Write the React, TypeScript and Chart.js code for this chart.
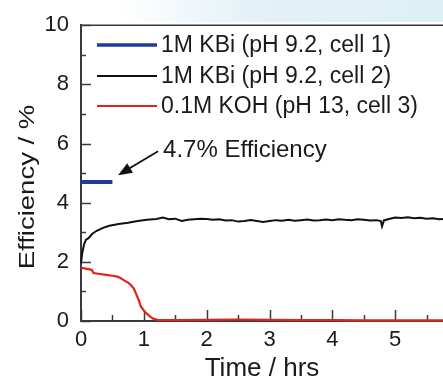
import { useEffect, useRef } from 'react';
import { Chart, registerables } from 'chart.js';

Chart.register(...registerables);

const FONT = '"Liberation Sans", Arial, Helvetica, sans-serif';

// ---- data (hours, efficiency %) ----
const cell1Time = [0, 0.5];
const cell1Eff = [4.7, 4.7];

const cell2Time = [0, 0.02, 0.05, 0.08, 0.12, 0.18, 0.25, 0.35, 0.45, 0.6, 0.75, 0.9, 1.05, 1.2, 1.3, 1.4, 1.5, 1.6, 1.7, 1.8, 1.9, 2.0, 2.1, 2.2, 2.3, 2.4, 2.5, 2.6, 2.7, 2.8, 2.9, 3.0, 3.1, 3.2, 3.3, 3.4, 3.5, 3.6, 3.7, 3.8, 3.9, 4.0, 4.1, 4.2, 4.3, 4.4, 4.5, 4.6, 4.7, 4.77, 4.79, 4.82, 4.9, 5.0, 5.1, 5.2, 5.3, 5.4, 5.5, 5.6, 5.7, 5.76];
const cell2Eff = [1.95, 2.3, 2.6, 2.75, 2.8, 2.95, 3.05, 3.15, 3.22, 3.28, 3.32, 3.38, 3.42, 3.45, 3.5, 3.44, 3.46, 3.38, 3.42, 3.44, 3.46, 3.45, 3.42, 3.44, 3.4, 3.41, 3.36, 3.38, 3.41, 3.38, 3.35, 3.38, 3.41, 3.39, 3.42, 3.39, 3.41, 3.43, 3.4, 3.41, 3.43, 3.41, 3.44, 3.42, 3.41, 3.44, 3.42, 3.4, 3.41, 3.38, 3.2, 3.4, 3.45, 3.5, 3.48, 3.51, 3.47, 3.49, 3.46, 3.47, 3.44, 3.45];

const cell3Time = [0, 0.05, 0.1, 0.17, 0.2, 0.3, 0.4, 0.5, 0.58, 0.62, 0.68, 0.72, 0.76, 0.8, 0.84, 0.88, 0.92, 0.95, 1.0, 1.05, 1.1, 1.15, 1.22, 1.5, 2.0, 2.5, 3.0, 3.5, 4.0, 4.5, 5.0, 5.5, 5.76];
const cell3Eff = [1.8, 1.78, 1.76, 1.73, 1.62, 1.59, 1.56, 1.53, 1.5, 1.46, 1.38, 1.33, 1.28, 1.2, 1.1, 0.9, 0.7, 0.5, 0.35, 0.24, 0.15, 0.08, 0.03, 0.03, 0.04, 0.05, 0.04, 0.03, 0.03, 0.02, 0.02, 0.02, 0.02];

const SERIES_LABELS = ['1M KBi (pH 9.2, cell 1)', '1M KBi (pH 9.2, cell 2)', '0.1M KOH (pH 13, cell 3)'];
const SERIES_COLORS = ['#1f3c9c', '#111111', '#e2231a'];
const X_TICKS = [0, 1, 2, 3, 4, 5];
const Y_TICKS = [0, 2, 4, 6, 8, 10];
const X_RANGE = [0, 5.76];
const Y_RANGE = [0, 10];
const X_TITLE = 'Time / hrs';
const Y_TITLE = 'Efficiency / %';
const NOTE_TEXT = '4.7% Efficiency';
const NOTE_TIP = [0.59, 4.93];

const pts = (xs: number[], ys: number[]) => xs.map((x, i) => ({ x, y: ys[i] }));

const decor = {
  id: 'decor',
  beforeDraw(chart: any) {
    const { ctx, width, height } = chart;
    ctx.save();
    ctx.fillStyle = '#ffffff';
    ctx.fillRect(0, 0, width, height);
    const g = ctx.createLinearGradient(120, 0, 443, 0);
    g.addColorStop(0, 'rgba(225,240,246,0)');
    g.addColorStop(0.4, 'rgba(225,240,246,0.9)');
    g.addColorStop(1, 'rgba(222,239,246,1)');
    ctx.fillStyle = g;
    ctx.fillRect(0, 0, width, 22);
    ctx.restore();
  },
  beforeDatasetsDraw(chart: any) {
    const { ctx, chartArea } = chart;
    const xs = chart.scales.x;
    const ys = chart.scales.y;
    ctx.save();
    ctx.strokeStyle = '#3a3a3a';
    ctx.lineWidth = 1.5;
    // top border
    ctx.beginPath();
    ctx.moveTo(chartArea.left, chartArea.top);
    ctx.lineTo(chartArea.right, chartArea.top);
    ctx.stroke();
    // y ticks (inside)
    for (let v = Y_RANGE[0]; v <= Y_RANGE[1]; v += 1) {
      const y = Math.round(ys.getPixelForValue(v)) + 0.5;
      const len = v % 2 === 0 ? 10 : 5;
      ctx.beginPath();
      ctx.moveTo(chartArea.left, y);
      ctx.lineTo(chartArea.left + len, y);
      ctx.stroke();
    }
    // x ticks (inside)
    for (let v = 0; v <= X_RANGE[1]; v += 0.5) {
      const x = Math.round(xs.getPixelForValue(v)) + 0.5;
      const len = Number.isInteger(v) ? 11 : 6;
      ctx.beginPath();
      ctx.moveTo(x, chartArea.bottom);
      ctx.lineTo(x, chartArea.bottom - len);
      ctx.stroke();
    }
    ctx.restore();
  },
  afterDatasetsDraw(chart: any) {
    const { ctx, chartArea } = chart;
    const xs = chart.scales.x;
    const ys = chart.scales.y;
    ctx.save();
    // legend
    const rowY = [45, 76, 106];
    const lw = [3.5, 2, 2];
    ctx.font = `23px ${FONT}`;
    ctx.textBaseline = 'middle';
    ctx.textAlign = 'left';
    chart.data.datasets.forEach((ds: any, i: number) => {
      ctx.strokeStyle = ds.borderColor;
      ctx.lineWidth = lw[i];
      ctx.beginPath();
      ctx.moveTo(97, rowY[i]);
      ctx.lineTo(157, rowY[i]);
      ctx.stroke();
      ctx.fillStyle = '#1a1a1a';
      ctx.fillText(ds.label, 161, rowY[i] + 1);
    });
    // annotation arrow
    const tx = xs.getPixelForValue(NOTE_TIP[0]);
    const ty = ys.getPixelForValue(NOTE_TIP[1]);
    const sx = tx + 40;
    const sy = ty - 24;
    const ang = Math.atan2(ty - sy, tx - sx);
    ctx.strokeStyle = '#111';
    ctx.fillStyle = '#111';
    ctx.lineWidth = 1.8;
    ctx.beginPath();
    ctx.moveTo(sx, sy);
    ctx.lineTo(tx - 10 * Math.cos(ang), ty - 10 * Math.sin(ang));
    ctx.stroke();
    ctx.beginPath();
    ctx.moveTo(tx, ty);
    ctx.lineTo(tx - 14 * Math.cos(ang) + 5.5 * Math.sin(ang), ty - 14 * Math.sin(ang) - 5.5 * Math.cos(ang));
    ctx.lineTo(tx - 14 * Math.cos(ang) - 5.5 * Math.sin(ang), ty - 14 * Math.sin(ang) + 5.5 * Math.cos(ang));
    ctx.closePath();
    ctx.fill();
    ctx.font = `24px ${FONT}`;
    ctx.textBaseline = 'alphabetic';
    ctx.fillStyle = '#1a1a1a';
    ctx.fillText(NOTE_TEXT, sx + 5, sy + 6);
    // x title
    ctx.font = `26px ${FONT}`;
    ctx.textAlign = 'center';
    ctx.fillText(X_TITLE, (chartArea.left + chartArea.right) / 2, 376);
    // y title (rotated)
    ctx.translate(34, 187);
    ctx.rotate(-Math.PI / 2);
    ctx.scale(1.25, 1);
    ctx.font = `22px ${FONT}`;
    ctx.fillText(Y_TITLE, 0, 0);
    ctx.restore();
  },
};

export default function App() {
  const ref = useRef<HTMLCanvasElement | null>(null);
  useEffect(() => {
    if (!ref.current) return;
    const chart = new Chart(ref.current, {
      type: 'scatter',
      data: {
        datasets: [
          { label: SERIES_LABELS[0], data: pts(cell1Time, cell1Eff), borderColor: SERIES_COLORS[0], borderWidth: 4, showLine: true, pointRadius: 0, clip: false as any },
          { label: SERIES_LABELS[1], data: pts(cell2Time, cell2Eff), borderColor: SERIES_COLORS[1], borderWidth: 2, showLine: true, pointRadius: 0, clip: false as any },
          { label: SERIES_LABELS[2], data: pts(cell3Time, cell3Eff), borderColor: SERIES_COLORS[2], borderWidth: 2.2, showLine: true, pointRadius: 0, clip: false as any },
        ],
      },
      options: {
        animation: false,
        responsive: false,
        devicePixelRatio: 1,
        layout: { padding: { top: 25, right: 0, left: 0, bottom: 0 } },
        plugins: { legend: { display: false }, tooltip: { enabled: false }, title: { display: false } },
        scales: {
          x: {
            type: 'linear',
            min: X_RANGE[0],
            max: X_RANGE[1],
            grid: { display: false, drawTicks: false },
            border: { display: true, color: '#3a3a3a', width: 2 },
            ticks: { font: { family: FONT, size: 22 }, color: '#1a1a1a', padding: 6, maxRotation: 0 },
            afterBuildTicks: (s: any) => { s.ticks = X_TICKS.map((v) => ({ value: v })); },
            afterFit: (s: any) => { s.height = 62; },
          },
          y: {
            type: 'linear',
            min: Y_RANGE[0],
            max: Y_RANGE[1],
            grid: { display: false, drawTicks: false },
            border: { display: true, color: '#3a3a3a', width: 2 },
            ticks: { font: { family: FONT, size: 22 }, color: '#1a1a1a', padding: 12 },
            afterBuildTicks: (s: any) => { s.ticks = Y_TICKS.map((v) => ({ value: v })); },
            afterFit: (s: any) => { s.width = 81; },
          },
        },
      },
      plugins: [decor],
    });
    return () => chart.destroy();
  }, []);
  return (
    <div style={{ position: 'absolute', left: 0, top: 0, width: 443, height: 383, overflow: 'hidden', background: '#fff' }}>
      <canvas ref={ref} width={443} height={383} style={{ display: 'block' }} />
    </div>
  );
}
